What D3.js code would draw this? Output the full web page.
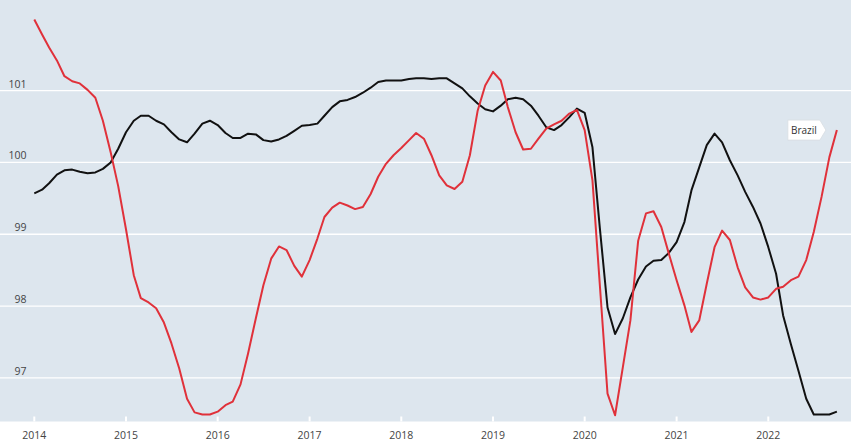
<!DOCTYPE html>
<html><head><meta charset="utf-8">
<script src="https://cdn.jsdelivr.net/npm/d3@7"></script>
<style>
html,body{margin:0;padding:0;background:#fff;}
svg{display:block;}
text{font-family:"Open Sans",sans-serif;}
</style></head>
<body><svg id="c" width="851" height="446"></svg>
<script>
const startMonth = "2014-01";
const endMonth = "2022-10";
const yTicks = [97, 98, 99, 100, 101];
const xTickYears = [2014, 2015, 2016, 2017, 2018, 2019, 2020, 2021, 2022];
const seriesLabel = "Brazil";
const redValues = [101.99,101.78,101.60,101.42,101.20,101.13,101.10,101.01,100.90,100.58,100.14,99.67,
  99.07,98.43,98.11,98.05,97.97,97.77,97.48,97.13,96.71,96.52,96.49,96.49,
  96.53,96.62,96.67,96.91,97.34,97.83,98.29,98.66,98.83,98.78,98.56,98.41,
  98.64,98.94,99.24,99.37,99.44,99.40,99.35,99.38,99.56,99.80,99.98,100.10,
  100.20,100.31,100.41,100.33,100.10,99.82,99.68,99.63,99.73,100.10,100.72,101.07,
  101.26,101.14,100.77,100.42,100.18,100.19,100.33,100.47,100.53,100.58,100.68,100.73,
  100.45,99.75,98.31,96.78,96.48,97.15,97.80,98.91,99.29,99.32,99.10,98.73,
  98.36,98.01,97.64,97.80,98.31,98.82,99.05,98.92,98.54,98.26,98.12,98.09,
  98.12,98.24,98.27,98.36,98.41,98.64,99.03,99.52,100.07,100.45];
const blackValues = [99.57,99.62,99.71,99.83,99.89,99.90,99.87,99.85,99.86,99.91,100.00,100.19,
  100.42,100.58,100.65,100.65,100.58,100.53,100.42,100.32,100.28,100.40,100.54,100.58,
  100.52,100.41,100.34,100.34,100.40,100.39,100.31,100.29,100.32,100.37,100.44,100.51,
  100.52,100.54,100.65,100.77,100.85,100.87,100.91,100.97,101.04,101.12,101.14,101.14,
  101.14,101.16,101.17,101.17,101.16,101.17,101.17,101.10,101.03,100.92,100.82,100.74,
  100.71,100.79,100.88,100.90,100.88,100.79,100.65,100.49,100.45,100.52,100.63,100.75,
  100.69,100.21,99.10,97.98,97.61,97.83,98.12,98.37,98.55,98.63,98.64,98.74,
  98.89,99.17,99.61,99.93,100.24,100.40,100.28,100.03,99.82,99.59,99.38,99.15,
  98.82,98.45,97.87,97.47,97.10,96.71,96.49,96.49,96.49,96.53];

const parse = d3.timeParse("%Y-%m");
const months = d3.timeMonth.range(parse(startMonth), d3.timeMonth.offset(parse(endMonth), 1));

const W = 851, plotH = 421.5;
const svg = d3.select("#c");
const x = d3.scaleTime().domain([new Date(2014,0,1), new Date(2022,0,1)]).range([34.3, 768.3]);
const y = d3.scaleLinear().domain([96.393, 102.261]).range([plotH, 0]);

svg.append("rect").attr("x",0).attr("y",0).attr("width",W).attr("height",plotH).attr("fill","#dde6ee");

// grid
const g = svg.append("g");
g.selectAll("line.grid").data(yTicks).join("line")
  .attr("x1",0).attr("x2",W).attr("y1",d=>y(d)).attr("y2",d=>y(d))
  .attr("stroke","#fff").attr("stroke-width",1.3);
g.selectAll("text.yl").data(yTicks).join("text")
  .attr("x",26.5).attr("y",d=>y(d)-3).attr("text-anchor","end")
  .attr("font-size","10.5px").attr("fill","#444").text(d=>d);

// x ticks
const xt = xTickYears.map(yr => new Date(yr,0,1));
g.selectAll("line.xt").data(xt).join("line")
  .attr("x1",d=>x(d)).attr("x2",d=>x(d)).attr("y1",plotH-5).attr("y2",plotH)
  .attr("stroke","#fff").attr("stroke-width",2);
g.selectAll("text.xl").data(xt).join("text")
  .attr("x",d=>x(d)).attr("y",438.5).attr("text-anchor","middle")
  .attr("font-size","10.5px").attr("fill","#444").text(d=>d3.timeFormat("%Y")(d));

const line = d3.line().x((d,i)=>x(months[i])).y(d=>y(d));
svg.append("path").datum(blackValues).attr("d",line).attr("fill","none")
  .attr("stroke","#111").attr("stroke-width",2).attr("stroke-linejoin","round");
svg.append("path").datum(redValues).attr("d",line).attr("fill","none")
  .attr("stroke","#e0313a").attr("stroke-width",2).attr("stroke-linejoin","round");

// label
const lx = x(months[months.length-1]), ly = y(redValues[redValues.length-1]);
const lg = svg.append("g").attr("transform",`translate(${lx},${ly})`);
const bw = 32, bh = 20, gap = 17;
lg.append("path")
  .attr("d",`M${-gap-bw},${-bh/2} H${-gap} L${-gap+6},0 L${-gap},${bh/2} H${-gap-bw} Z`)
  .attr("fill","#fff").attr("stroke","#d8dde2").attr("stroke-width",0.8);
lg.append("text").attr("x",-gap-bw/2).attr("y",3.5).attr("text-anchor","middle")
  .attr("font-size","10px").attr("fill","#333").text(seriesLabel);
</script></body></html>
